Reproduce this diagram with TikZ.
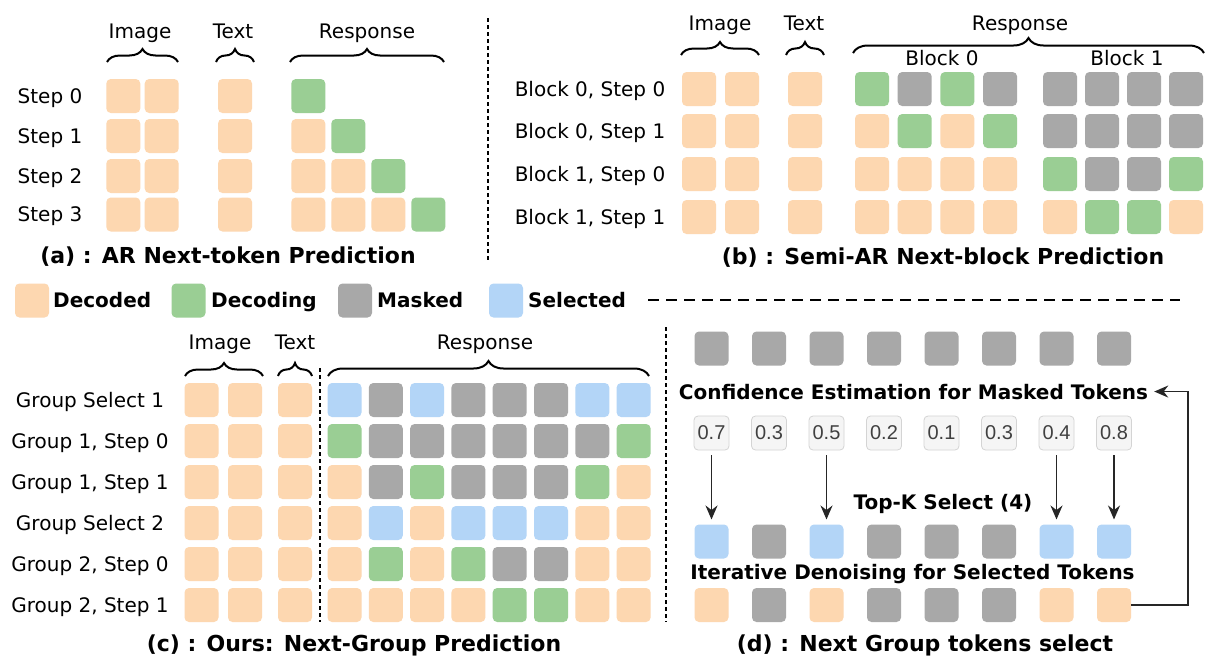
\documentclass[tikz,border=0pt]{standalone}
\usepackage{fontspec}
\setmainfont{DejaVu Sans}
\newfontfamily\numfont{Liberation Sans}
\usetikzlibrary{decorations.pathreplacing,arrows.meta}
\definecolor{cDec}{RGB}{253,215,176}
\definecolor{cGrn}{RGB}{154,206,148}
\definecolor{cMsk}{RGB}{168,168,168}
\definecolor{cSel}{RGB}{179,213,247}
\definecolor{cValF}{RGB}{245,245,245}
\definecolor{cValD}{RGB}{212,212,212}
\begin{document}
\begin{tikzpicture}[x=1pt,y=-1pt,
 tok/.style={rounded corners=4.5pt, minimum width=34pt, minimum height=34pt, inner sep=0pt, outer sep=0pt},
 tD/.style={tok,fill=cDec}, tG/.style={tok,fill=cGrn}, tM/.style={tok,fill=cMsk}, tS/.style={tok,fill=cSel},
 lbl/.style={font=\fontsize{20}{24}\selectfont, inner sep=0pt, anchor=base},
 lblw/.style={font=\bfseries\fontsize{20}{24}\selectfont, inner sep=0pt, anchor=base west},
 bl/.style={font=\bfseries\fontsize{20}{24}\selectfont, inner sep=0pt, anchor=base},
 capt/.style={font=\bfseries\fontsize{22}{26}\selectfont, inner sep=0pt, anchor=base},
 brc/.style={decorate, decoration={brace, amplitude=#1}, line width=2pt},
 brc/.default=13pt,
 sep/.style={dash pattern=on 4pt off 3pt, line width=1.3pt},
 arr/.style={-{Stealth[length=14pt,width=12pt]}, line width=1.6pt, draw=black!85},
 val/.style={rounded corners=4pt, minimum width=35pt, minimum height=34pt, inner sep=0pt, fill=cValF, draw=cValD, line width=0.8pt, font=\numfont\fontsize{20}{22}\selectfont, text=black!75}
]
\fill[white] (0,0) rectangle (1212,662);
\useasboundingbox (0,0) rectangle (1212,662);

% ---------------- (a)
\node[lbl] (aHi) at (140,38) {Image};
\node[lbl] (aHt) at (233,38) {Text};
\node[lbl] (aHr) at (367,38) {Response};
\draw[brc] (107,62) -- (178,62);
\draw[brc] (216,62) -- (254,62);
\draw[brc] (290,62) -- (444,62);
\foreach \r/\y in {0/96,1/136,2/176,3/214.5}{
  \node[lbl] (aL\r) at (50,\y+7) {Step \r};
  \node[tD] (ar\r i1) at (123.3,\y) {};
  \node[tD] (ar\r i2) at (161.7,\y) {};
  \node[tD] (ar\r t) at (235,\y) {};
}
\foreach \r/\y/\cl in {0/96/{tG},1/136/{tD,tG},2/176/{tD,tD,tG},3/214.5/{tD,tD,tD,tG}}{
  \foreach \c [count=\k] in \cl { \node[\c] (ar\r x\k) at (268.3+40*\k,\y) {}; }
}
\node[capt] (aCap) at (228,263) {(a) : AR Next-token Prediction};

\draw[sep] (488,18) -- (488,262);

% ---------------- (b)
\node[lbl] (bHi) at (720,30) {Image};
\node[lbl] (bHt) at (804,30) {Text};
\node[lbl] (bHr) at (1020,30) {Response};
\node[lbl] (bB0) at (942,65) {Block 0};
\node[lbl] (bB1) at (1127,65) {Block 1};
\draw[brc] (681,55) -- (759,55);
\draw[brc] (786,55) -- (824,55);
\draw[brc=15pt] (853,53) -- (1204,53);
\foreach \r/\y/\lab in {0/89/{Block 0, Step 0},1/131/{Block 0, Step 1},2/174/{Block 1, Step 0},3/217/{Block 1, Step 1}}{
  \node[lbl] (bL\r) at (590,\y+7) {\lab};
  \node[tD] (br\r i1) at (699,\y) {};
  \node[tD] (br\r i2) at (742,\y) {};
  \node[tD] (br\r t) at (805,\y) {};
}
\foreach \r/\y/\cl in {0/89/{tG,tM,tG,tM,tM,tM,tM,tM},1/131/{tD,tG,tD,tG,tM,tM,tM,tM},2/174/{tD,tD,tD,tD,tG,tM,tM,tG},3/217/{tD,tD,tD,tD,tD,tG,tG,tD}}{
  \foreach \c [count=\k] in \cl {
    \pgfmathsetmacro\xx{ifthenelse(\k<5,872+42.7*(\k-1),1060+42*(\k-5))}
    \node[\c] (br\r x\k) at (\xx,\y) {};
  }
}
\node[capt] (bCap) at (943,264) {(b) : Semi-AR Next-block Prediction};

% ---------------- legend
\node[tD] (lgD) at (32,300.5) {};
\node[lblw] (lgDt) at (53,307) {Decoded};
\node[tG] (lgG) at (188.5,300.5) {};
\node[lblw] (lgGt) at (211,307) {Decoding};
\node[tM] (lgM) at (355,300.5) {};
\node[lblw] (lgMt) at (377,307) {Masked};
\node[tS] (lgS) at (506,300.5) {};
\node[lblw] (lgSt) at (528,307) {Selected};
\draw[dash pattern=on 11pt off 7pt, line width=2pt] (648,300) -- (1180,300);

% ---------------- (c)
\node[lbl] (cHi) at (220,349) {Image};
\node[lbl] (cHt) at (295,349) {Text};
\node[lbl] (cHr) at (485,349) {Response};
\draw[brc] (185,376) -- (263,376);
\draw[brc] (278,376) -- (312,376);
\draw[brc=15pt] (328,376) -- (649,376);
\foreach \r/\y/\lab in {0/400/{Group Select 1},1/441/{Group 1, Step 0},2/482/{Group 1, Step 1},3/523/{Group Select 2},4/564/{Group 2, Step 0},5/605/{Group 2, Step 1}}{
  \node[lbl] (cL\r) at (90,\y+7) {\lab};
  \node[tD] (cr\r i1) at (201.5,\y) {};
  \node[tD] (cr\r i2) at (245,\y) {};
  \node[tD] (cr\r t) at (295,\y) {};
}
\foreach \r/\y/\cl in {0/400/{tS,tM,tS,tM,tM,tM,tS,tS},1/441/{tG,tM,tM,tM,tM,tM,tM,tG},2/482/{tD,tM,tG,tM,tM,tM,tG,tD},3/523/{tD,tS,tD,tS,tS,tS,tD,tD},4/564/{tD,tG,tD,tG,tM,tM,tD,tD},5/605/{tD,tD,tD,tD,tG,tG,tD,tD}}{
  \foreach \c [count=\k] in \cl { \node[\c] (cr\r x\k) at (344.5+41.3*\k-41.3,\y) {}; }
}
\draw[sep] (320,368) -- (320,622);
\node[capt] (cCap) at (354,651) {(c) : Ours: Next-Group Prediction};

\draw[sep] (666,327) -- (666,622);

% ---------------- (d)
\foreach \k in {1,...,8}{ \node[tM] (dq\k) at (711.5+57.5*\k-57.5,348.5) {}; }
\node[bl] (conf) at (913.5,399) {Confidence Estimation for Masked Tokens};
\foreach \v [count=\k] in {0.7,0.3,0.5,0.2,0.1,0.3,0.4,0.8}{ \node[val] (dv\k) at (711.5+57.5*\k-57.5,433) {\v}; }
\node[bl] (topk) at (943,509) {Top-K Select (4)};
\foreach \c [count=\k] in {tS,tM,tS,tM,tM,tM,tS,tS}{ \node[\c] (ds\k) at (711.5+57.5*\k-57.5,541.5) {}; }
\node[bl] (iter) at (912.5,579) {Iterative Denoising for Selected Tokens};
\foreach \c [count=\k] in {tD,tM,tD,tM,tM,tM,tD,tD}{ \node[\c] (db\k) at (711.5+57.5*\k-57.5,605) {}; }
\foreach \k in {1,3,7,8}{ \draw[arr, shorten <=5pt, shorten >=5pt] (dv\k.south) -- (ds\k.north); }
\coordinate (retc) at (1188,605);
\draw[arr, shorten >=6pt] (db8.east) -- (retc) |- (conf.east);
\node[capt] (dCap) at (925,651) {(d) : Next Group tokens select};
\end{tikzpicture}
\end{document}
